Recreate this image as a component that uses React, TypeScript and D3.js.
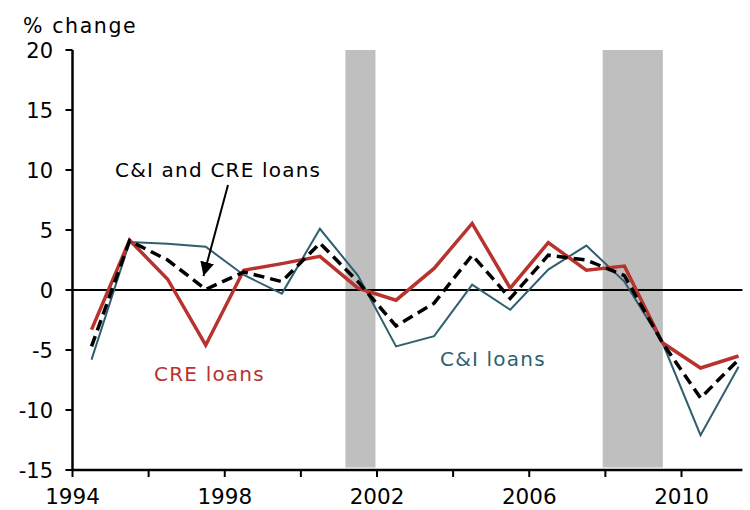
import React from "react";
import * as d3 from "d3";

const years = [1994.5, 1995.5, 1996.5, 1997.5, 1998.5, 1999.5, 2000.5, 2001.5, 2002.5, 2003.5, 2004.5, 2005.5, 2006.5, 2007.5, 2008.5, 2009.5, 2010.5, 2011.5];
const creLoans = [-3.3, 4.15, 0.9, -4.6, 1.65, 2.2, 2.8, 0.15, -0.85, 1.8, 5.55, 0.15, 3.95, 1.65, 2.0, -4.4, -6.5, -5.5];
const ciAndCre = [-4.7, 4.1, 2.5, 0.05, 1.5, 0.7, 3.9, 0.7, -3.0, -1.1, 2.9, -0.7, 2.9, 2.5, 1.2, -4.4, -9.0, -5.8];
const ciLoans = [-5.8, 4.0, 3.85, 3.6, 1.25, -0.3, 5.1, 1.2, -4.7, -3.85, 0.45, -1.65, 1.7, 3.7, 0.7, -4.4, -12.1, -6.4];
const recessionStart = [2001.17, 2007.93];
const recessionEnd = [2001.96, 2009.51];
const yTicks = [20, 15, 10, 5, 0, -5, -10, -15];
const xMinorTicks = [1994, 1996, 1998, 2000, 2002, 2004, 2006, 2008, 2010];
const xLabels = [1994, 1998, 2002, 2006, 2010];

const W = 750;
const H = 510;
const FONT = "'DejaVu Sans', Verdana, sans-serif";

export default function App() {
  const x = d3.scaleLinear().domain([1994, 2010]).range([72.5, 681.5]);
  const y = d3.scaleLinear().domain([-15, 20]).range([470, 50]);
  const xEnd = x(2011.6);

  const line = (vals: number[]) =>
    d3
      .line<number>()
      .x((_, i) => x(years[i]))
      .y((v) => y(v))(vals) as string;

  const red = "#b8322e";
  const teal = "#2f5f6f";

  return (
    <svg width={W} height={H} style={{ position: "absolute", left: 0, top: 0, background: "#fff" }}>
      <defs>
        <marker id="arrowHead" viewBox="0 0 10 10" refX="10" refY="5" markerWidth="14" markerHeight="14" markerUnits="userSpaceOnUse" orient="auto">
          <path d="M0,0 L10,5 L0,10 z" fill="#000" />
        </marker>
      </defs>
      {recessionStart.map((s, i) => (
        <rect key={i} x={x(s)} y={y(20)} width={x(recessionEnd[i]) - x(s)} height={y(-15) - y(20) - 2.5} fill="#bfbfbf" />
      ))}
      {/* zero line */}
      <line x1={x(1994)} x2={xEnd} y1={y(0)} y2={y(0)} stroke="#000" strokeWidth={2} />
      {/* y axis */}
      <line x1={x(1994)} x2={x(1994)} y1={y(20)} y2={y(-15)} stroke="#000" strokeWidth={2.5} />
      {yTicks.map((t) => (
        <g key={t}>
          <line x1={x(1994) - 7} x2={x(1994)} y1={y(t)} y2={y(t)} stroke="#000" strokeWidth={2} />
          <text x={53} y={y(t) + 7.5} textAnchor="end" fontFamily={FONT} fontSize={21} fill="#000">
            {t}
          </text>
        </g>
      ))}
      {/* x axis */}
      <line x1={x(1994)} x2={xEnd} y1={y(-15)} y2={y(-15)} stroke="#000" strokeWidth={2.5} />
      {xMinorTicks.map((t) => (
        <line key={t} x1={x(t)} x2={x(t)} y1={y(-15)} y2={y(-15) + 7} stroke="#000" strokeWidth={2} />
      ))}
      {xLabels.map((t) => (
        <text key={t} x={x(t)} y={504} textAnchor="middle" fontFamily={FONT} fontSize={21.5} fill="#000">
          {t}
        </text>
      ))}
      {/* series */}
      <path d={line(ciLoans)} fill="none" stroke={teal} strokeWidth={2} strokeLinejoin="miter" />
      <path d={line(creLoans)} fill="none" stroke={red} strokeWidth={3.5} strokeLinejoin="miter" />
      <path d={line(ciAndCre)} fill="none" stroke="#000" strokeWidth={3.5} strokeDasharray="11,6" />
      {/* annotations */}
      <text x={23} y={33} fontFamily={FONT} fontSize={20.5} letterSpacing={1.6} fill="#000">
        % change
      </text>
      <text x={115} y={177} fontFamily={FONT} fontSize={20} letterSpacing={1.2} fill="#000">
        C&amp;I and CRE loans
      </text>
      <line x1={228} y1={185} x2={203.5} y2={276} stroke="#000" strokeWidth={2} markerEnd="url(#arrowHead)" />
      <text x={154} y={381} fontFamily={FONT} fontSize={20} letterSpacing={1.2} fill={red}>
        CRE loans
      </text>
      <text x={440} y={366} fontFamily={FONT} fontSize={20} letterSpacing={1.2} fill={teal}>
        C&amp;I loans
      </text>
    </svg>
  );
}
